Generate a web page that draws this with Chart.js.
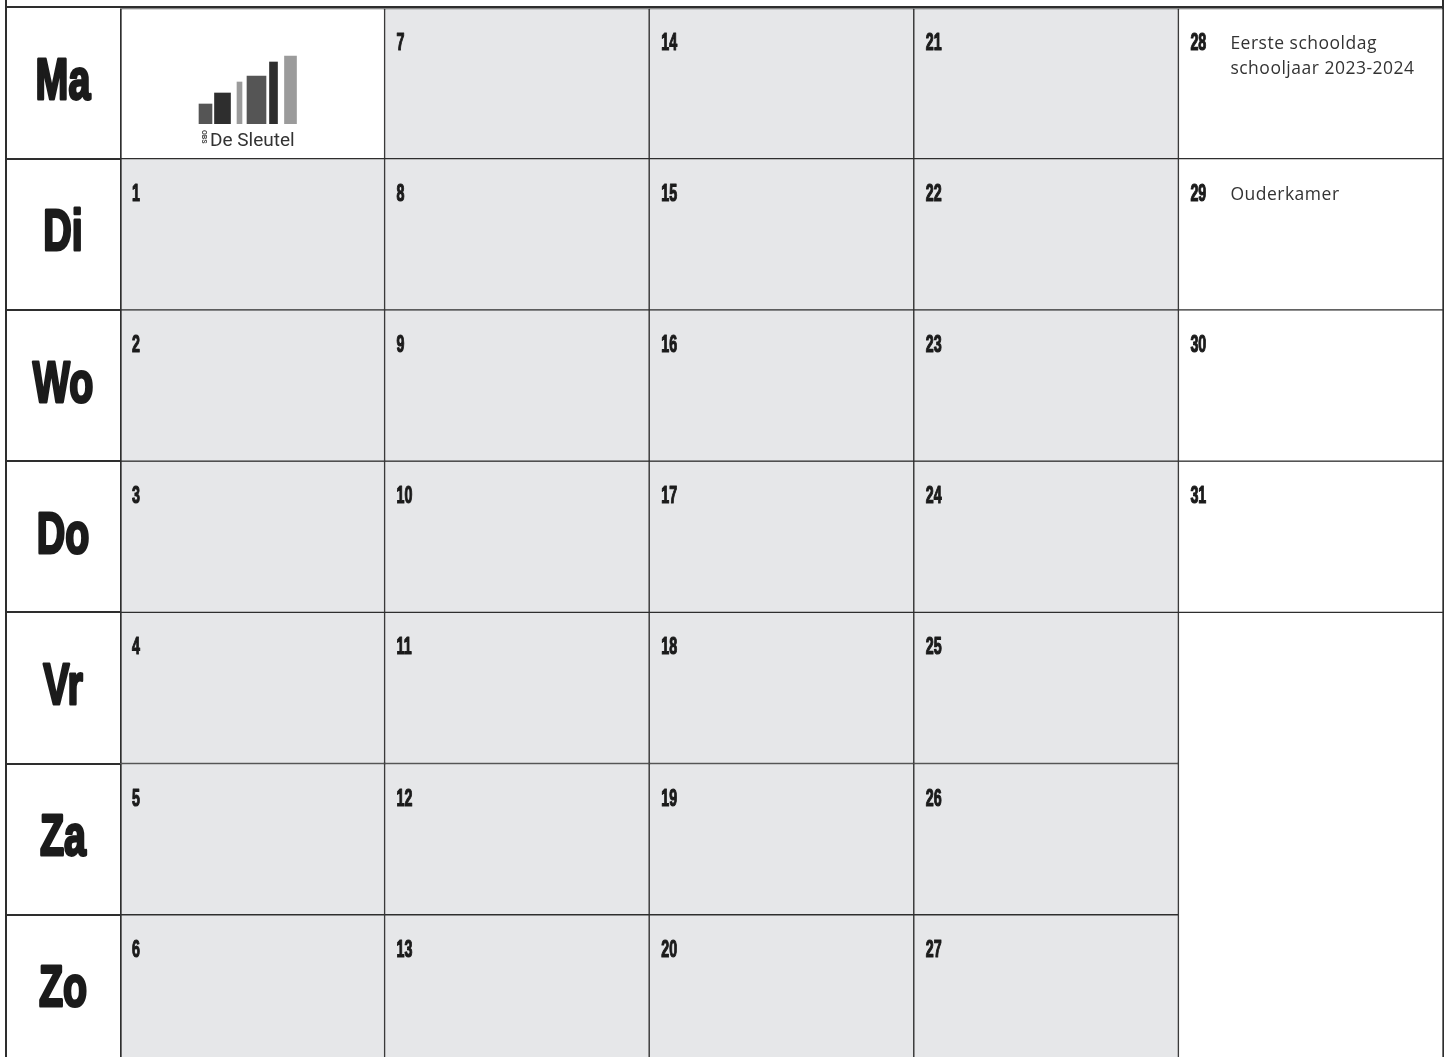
<!DOCTYPE html>
<html>
<head>
<meta charset="utf-8">
<title>Augustus 2023</title>
<script src="https://cdn.jsdelivr.net/npm/chart.js@4.4.0/dist/chart.umd.min.js"></script>
<style>
  body { margin: 0; background: #fff; overflow: hidden; }
  #wrap { position: relative; width: 1449px; height: 1057px; }
  #logo { position: absolute; left: 197px; top: 50px; }
  #logoText { position: absolute; left: 210px; top: 130px; font: 19px "Roboto"; line-height: 19px; color: #333; white-space: nowrap; }
  #obs { position: absolute; left: 200px; top: 130px; font: bold 7px "Roboto"; line-height: 8px; color: #444; writing-mode: vertical-rl; }
</style>
</head>
<body>
<div id="wrap">
  <canvas id="kalender" width="1449" height="1057"></canvas>
  <canvas id="logo" width="102" height="74"></canvas>
  <div id="obs">OBS</div>
  <div id="logoText">De Sleutel</div>
</div>
<script>
const KALENDER = document.getElementById("kalender");
const LOGO = document.getElementById("logo");

// dagen (rijen) en weken (kolommen)
const dagen = ['Ma', 'Di', 'Wo', 'Do', 'Vr', 'Za', 'Zo'];
const weken = ['31', '32', '33', '34', '35'];
// datum per week, per dag (null = geen datum)
const datums = [
  [null, 1, 2, 3, 4, 5, 6],
  [7, 8, 9, 10, 11, 12, 13],
  [14, 15, 16, 17, 18, 19, 20],
  [21, 22, 23, 24, 25, 26, 27],
  [28, 29, 30, 31, null, null, null]
];
const laatsteVakantiedag = 27;
const activiteiten = {
  28: ['Eerste schooldag', 'schooljaar 2023-2024'],
  29: ['Ouderkamer']
};
// lege samengevoegde cel in de laatste week (Vr t/m Zo)
const legeCelWeek = 4;
const legeCelVan = 4;
const legeCelTot = 7;

// logo balkjes
const logoWaarden = [20, 31, 42, 48, 62, 68];

const lijnKleur = '#2e2e2e';
const grijs = '#e6e7e9';
const wit = '#ffffff';
const dagKolom = 114;

document.fonts.load('bold 60px "Liberation Sans"').then(() => {
  tekenKalender();
  tekenLogo();
});

// smalle vette tekst (horizontaal samengedrukt, extra aangezet)
function smalleTekst(ctx, tekst, x, y, grootte, schaal, dikte, uitlijning, basislijn) {
  ctx.save();
  ctx.fillStyle = '#1b1b1b';
  ctx.strokeStyle = '#1b1b1b';
  ctx.lineJoin = 'round';
  ctx.lineWidth = dikte;
  ctx.font = 'bold ' + grootte + 'px "Liberation Sans"';
  ctx.textAlign = uitlijning;
  ctx.textBaseline = basislijn;
  ctx.translate(x, y);
  ctx.scale(schaal, 1);
  ctx.fillText(tekst, 0, 0);
  ctx.strokeText(tekst, 0, 0);
  ctx.restore();
}

const tekstPlugin = {
  id: 'tekstPlugin',
  afterDatasetsDraw(chart) {
    const ctx = chart.ctx;
    const yAs = chart.scales.y;
    dagen.forEach((dag, r) => {
      // dagnaam in de linker kolom
      smalleTekst(ctx, dag, (yAs.left + yAs.right) / 2, yAs.getPixelForValue(r + 0.5), 58, 0.68, 3, 'center', 'middle');
      const meta = chart.getDatasetMeta(r);
      meta.data.forEach((bar, i) => {
        const d = datums[i][r];
        if (d === null) return;
        const p = bar.getProps(['x', 'y', 'base', 'width'], true);
        const links = p.x - p.width / 2;
        const boven = Math.min(p.y, p.base);
        smalleTekst(ctx, String(d), links + 12, boven + 42, 23, 0.62, 1.2, 'left', 'alphabetic');
        (activiteiten[d] || []).forEach((regel, k) => {
          ctx.save();
          ctx.fillStyle = '#333333';
          ctx.font = '400 17.5px "Open Sans"';
          ctx.letterSpacing = '0.5px';
          ctx.textBaseline = 'alphabetic';
          ctx.fillText(regel, links + 52, boven + 41 + k * 25);
          ctx.restore();
        });
      });
    });
  }
};

function tekenKalender() {
  const datasets = dagen.map((dag, r) => ({
    label: dag,
    yAxisID: 'y',
    data: weken.map((w, i) => (i === legeCelWeek && r >= legeCelVan) ? null : [r, r + 1]),
    backgroundColor: c => {
      const d = datums[c.dataIndex][r];
      return (d !== null && d <= laatsteVakantiedag) ? grijs : wit;
    },
    borderWidth: c => c.dataIndex === 0 ? { top: 1, bottom: 1, left: 2, right: 1 } : 1
  }));
  datasets.push({
    label: 'leeg',
    yAxisID: 'y',
    data: weken.map((w, i) => i === legeCelWeek ? [legeCelVan, legeCelTot] : null),
    backgroundColor: wit,
    borderWidth: 1
  });

  new Chart(KALENDER, {
    type: 'bar',
    data: { labels: weken, datasets: datasets },
    options: {
      responsive: false,
      animation: false,
      events: [],
      layout: { padding: { left: 6, right: 6, top: 0, bottom: 0 } },
      plugins: { legend: { display: false }, tooltip: { enabled: false } },
      datasets: {
        bar: {
          grouped: false,
          categoryPercentage: 1,
          barPercentage: 1,
          borderColor: lijnKleur,
          borderSkipped: false
        }
      },
      scales: {
        x: { display: false },
        y: {
          position: 'left',
          reverse: true,
          min: -0.0496,
          max: 6.941,
          afterBuildTicks: s => {
            s.ticks = dagen.flatMap((d, i) => [{ value: i }, { value: i + 0.5 }]);
          },
          afterFit: s => { s.width = dagKolom; },
          border: { display: false },
          grid: {
            z: 1,
            lineWidth: 2,
            tickLength: dagKolom,
            color: c => c.tick && c.tick.value === 0 ? lijnKleur : 'transparent',
            tickColor: c => c.tick && Number.isInteger(c.tick.value) ? lijnKleur : 'transparent'
          },
          ticks: { display: false }
        },
        yL: {
          position: 'left',
          weight: 10,
          afterFit: s => { s.width = 0; },
          ticks: { display: false },
          grid: { display: false },
          border: { display: true, color: lijnKleur, width: 2 }
        },
        yR: {
          position: 'right',
          afterFit: s => { s.width = 0; },
          ticks: { display: false },
          grid: { display: false },
          border: { display: true, color: lijnKleur, width: 2 }
        }
      }
    },
    plugins: [tekstPlugin]
  });
}

function tekenLogo() {
  const logoKleuren = ['#555555', '#2e2e2e', '#9b9b9b', '#555555', '#2e2e2e', '#9b9b9b'];
  const logoBreedtes = [13, 16, 5, 19, 8, 12];
  new Chart(LOGO, {
    type: 'bar',
    data: {
      labels: logoWaarden.map((v, i) => i),
      datasets: logoWaarden.map((v, i) => ({
        data: logoWaarden.map((w, j) => j === i ? w : null),
        backgroundColor: logoKleuren[i],
        barThickness: logoBreedtes[i]
      }))
    },
    options: {
      responsive: false,
      animation: false,
      events: [],
      layout: { padding: 0 },
      plugins: { legend: { display: false }, tooltip: { enabled: false } },
      datasets: { bar: { grouped: false } },
      scales: {
        x: { display: false },
        y: { display: false, min: 0, max: 74 }
      }
    }
  });
}
</script>
</body>
</html>
